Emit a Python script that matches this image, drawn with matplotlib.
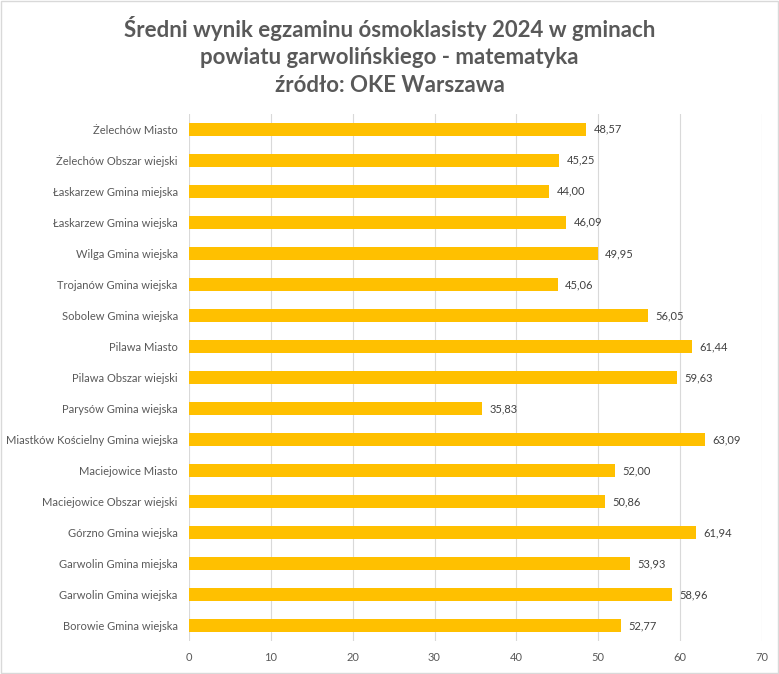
import matplotlib
matplotlib.use('Agg')
import matplotlib.pyplot as plt
import numpy as np

# data, bottom to top as drawn
gminy = ['Borowie Gmina wiejska', 'Garwolin Gmina wiejska', 'Garwolin Gmina miejska',
         'Górzno Gmina wiejska', 'Maciejowice Obszar wiejski', 'Maciejowice Miasto',
         'Miastków Kościelny Gmina wiejska', 'Parysów Gmina wiejska', 'Pilawa Obszar wiejski',
         'Pilawa Miasto', 'Sobolew Gmina wiejska', 'Trojanów Gmina wiejska',
         'Wilga Gmina wiejska', 'Łaskarzew Gmina wiejska', 'Łaskarzew Gmina miejska',
         'Żelechów Obszar wiejski', 'Żelechów Miasto']
wyniki = [52.77, 58.96, 53.93, 61.94, 50.86, 52.00, 63.09, 35.83, 59.63,
          61.44, 56.05, 45.06, 49.95, 46.09, 44.00, 45.25, 48.57]
ticks = [0, 10, 20, 30, 40, 50, 60, 70]

plt.rcParams['font.family'] = ['Lato', 'DejaVu Sans']
grey = '#595959'

fig = plt.figure(figsize=(7.79, 6.74), dpi=100)
ax = fig.add_axes([0.2426, 0.049, 0.7354, 0.782])

y = np.arange(len(gminy))
ax.barh(y, wyniki, height=0.4, color='#FFC000', zorder=3)
for yi, v in zip(y, wyniki):
    ax.text(v + 0.9, yi, f'{v:.2f}'.replace('.', ','), va='center', ha='left',
            fontsize=8, color='#404040')

ax.set_xlim(0, 70)
ax.set_ylim(-0.5, 16.5)
ax.set_xticks(ticks)
ax.set_yticks(y)
ax.set_yticklabels(gminy)
ax.tick_params(axis='both', length=0, labelsize=8, colors=grey)
ax.tick_params(axis='x', pad=8)
ax.tick_params(axis='y', pad=8)
ax.xaxis.grid(True, color='#D9D9D9', linewidth=0.8, zorder=0)
for s in ax.spines.values():
    s.set_visible(False)

fig.text(0.5, 0.917, 'Średni wynik egzaminu ósmoklasisty 2024 w gminach\n'
         'powiatu garwolińskiego - matematyka\nźródło: OKE Warszawa',
         ha='center', va='center', fontsize=16, fontweight='bold', color=grey,
         linespacing=1.36)

fig.patches.append(plt.Rectangle((0.001, 0.001), 0.998, 0.998, transform=fig.transFigure,
                                 fill=False, edgecolor='#D9D9D9', linewidth=1))

fig.savefig('out.png', dpi=100)
